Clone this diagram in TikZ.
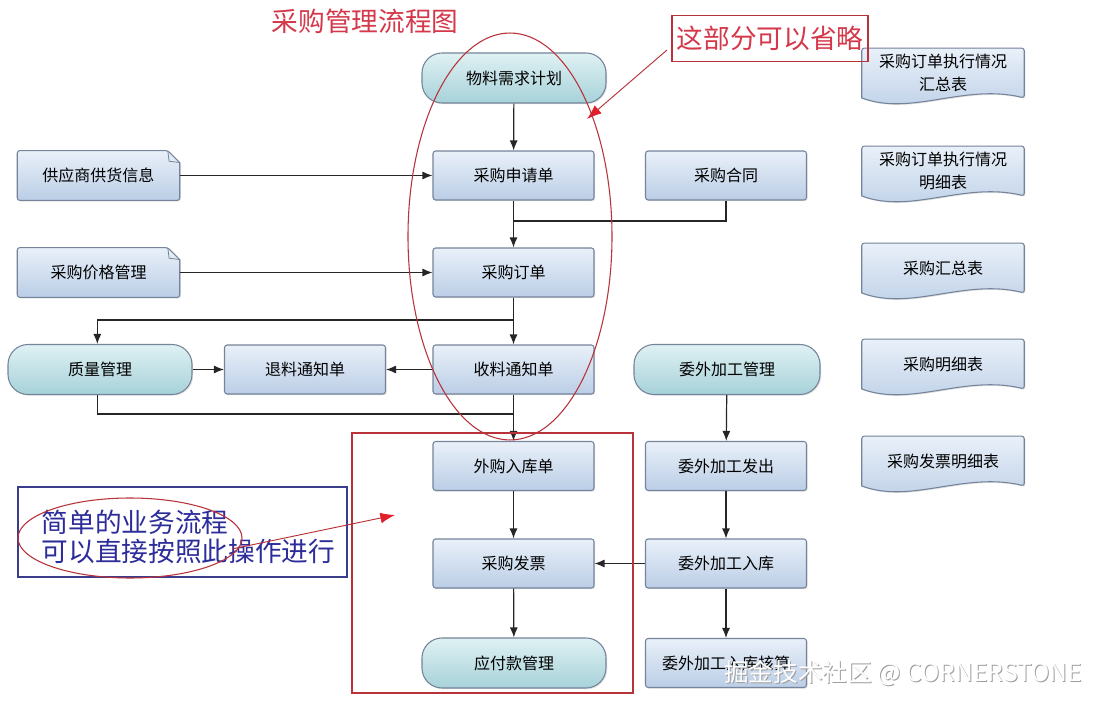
\documentclass[tikz,border=0pt]{standalone}
\usepackage{fontspec}
\setmainfont{Noto Sans CJK SC}
\usetikzlibrary{arrows.meta,shadows,backgrounds}
\definecolor{boxtop}{HTML}{E9F0F9}
\definecolor{boxbot}{HTML}{BBCEE6}
\definecolor{boxdraw}{HTML}{75849A}
\definecolor{termtop}{HTML}{DFF1F3}
\definecolor{termbot}{HTML}{A6D2D9}
\definecolor{linec}{HTML}{262626}
\definecolor{annred}{HTML}{B8323A}
\definecolor{titred}{HTML}{D4384A}
\definecolor{arrred}{HTML}{E0202A}
\definecolor{annblue}{HTML}{2C2C9A}
\definecolor{boxblue}{HTML}{3C3C8C}
\tikzset{
  x=0.75pt, y=-0.75pt,
  shade/.style={drop shadow={opacity=0.22,shadow xshift=0.9pt,shadow yshift=-0.9pt}},
  box/.style={rectangle, rounded corners=2pt, draw=boxdraw, line width=0.8pt,
    top color=boxtop, bottom color=boxbot, minimum width=120.75pt, minimum height=36.75pt,
    inner sep=0pt, font=\fontsize{12}{14}\selectfont, shade},
  term/.style={box, rounded corners=15pt, top color=termtop, bottom color=termbot,
    minimum width=138pt, minimum height=37.5pt},
  plain/.style={rectangle, minimum width=121.5pt, minimum height=37pt, inner sep=0pt,
    align=center, font=\fontsize{12}{17}\selectfont},
  docstyle/.style={draw=boxdraw, line width=0.8pt, top color=boxtop, bottom color=boxbot, shade},
  arr/.style={draw=linec, line width=0.9pt, -{Latex[length=7.5pt,width=6pt]}},
  ln/.style={draw=linec, line width=0.9pt},
  redarr/.style={draw=annred, line width=0.7pt, -{Latex[length=11pt,width=8pt,color=arrred]}},
}
\newcommand\foldeddoc[1]{%
  \begin{scope}[on background layer]
  \path[docstyle, rounded corners=2pt] (#1.south west) -- (#1.north west)
     -- ([xshift=-9pt]#1.north east) [sharp corners] -- ([yshift=-9pt]#1.north east)
     [rounded corners=2pt] -- (#1.south east) -- cycle;
  \draw[boxdraw, line width=0.6pt] ([xshift=-9pt]#1.north east) -- ([xshift=-8pt,yshift=-8pt]#1.north east) -- ([yshift=-9pt]#1.north east);
  \end{scope}}
\newcommand\wavedoc[1]{%
  \begin{scope}[on background layer]
  \path[docstyle, rounded corners=2pt] (#1.south west) -- (#1.north west) -- (#1.north east)
     -- (#1.south east) [sharp corners]
     .. controls ([xshift=-45pt,yshift=11pt]#1.south east) and ([xshift=37pt,yshift=-14pt]#1.south west) .. (#1.south west) -- cycle;
  \end{scope}}
\begin{document}
\begin{tikzpicture}
\useasboundingbox (0,0) rectangle (1108,706);
\begin{scope}[on background layer]
\fill[white] (0,0) rectangle (1108,706);
\end{scope}

% main column
\node[term] (plan)    at (514,78)    {物料需求计划};
\node[box]  (apply)   at (513.5,175.5) {采购申请单};
\node[box]  (order)   at (513.5,272.5) {采购订单};
\node[box]  (recv)    at (513.5,369.5) {收料通知单};
\node[box]  (instock) at (513.5,466)   {外购入库单};
\node[box]  (invoice) at (513.5,563.5) {采购发票};
\node[term] (payable) at (514,663)     {应付款管理};

% left column
\node[plain] (supp)  at (98.5,175.5) {供应商供货信息};
\node[plain] (price) at (98.5,272.5) {采购价格管理};
\foldeddoc{supp}
\foldeddoc{price}
\node[term] (qual) at (100,369.5) {质量管理};
\node[box]  (ret)  at (305,369.5) {退料通知单};

% outsourcing column
\node[box]  (contract) at (726,175.5) {采购合同};
\node[term, minimum width=139.5pt] (osm) at (727,369.5) {委外加工管理};
\node[box]  (oss)   at (726,466)   {委外加工发出};
\node[box]  (osin)  at (726,563.5) {委外加工入库};
\node[box]  (oscalc) at (726,663)  {委外加工入库核算};

% report documents
\node[plain] (r1) at (943,73)  {采购订单执行情况\\汇总表};
\node[plain] (r2) at (943,171) {采购订单执行情况\\明细表};
\node[plain] (r3) at (943,268) {采购汇总表};
\node[plain] (r4) at (943,364) {采购明细表};
\node[plain] (r5) at (943,461) {采购发票明细表};
\wavedoc{r1}\wavedoc{r2}\wavedoc{r3}\wavedoc{r4}\wavedoc{r5}

% connectors
\coordinate (j1) at (513.5,221);
\coordinate (j2) at (513.5,320);
\coordinate (j3) at (513.5,414);
\draw[arr] (plan) -- (apply);
\draw[arr] (supp) -- (apply);
\draw[arr] (apply) -- (order);
\draw[ln]  (contract) |- (j1);
\draw[arr] (price) -- (order);
\draw[arr] (order) -- (recv);
\draw[arr] (j2) -| ([xshift=-2pt]qual.north);
\draw[arr] (recv) -- (ret);
\draw[arr] (qual) -- (ret);
\draw[ln]  ([xshift=-2pt]qual.south) |- (j3);
\draw[arr] (recv) -- (instock);
\draw[arr] (instock) -- (invoice);
\draw[arr] (invoice) -- (payable);
\draw[arr] (osm) -- (oss);
\draw[arr] (oss) -- (osin);
\draw[arr] (osin) -- (oscalc);
\draw[arr] (osin) -- (invoice);

% annotations
\node[text=titred, font=\fontsize{20}{22}\selectfont] (title) at (365,21) {采购管理流程图};
\node[draw=annred, line width=0.8pt, text=titred, inner xsep=1pt, inner ysep=2pt,
      minimum width=147pt, minimum height=34pt, font=\fontsize{20}{22}\selectfont] (omit) at (770,38.5) {这部分可以省略};
\coordinate (t1a) at (667,50);
\coordinate (t1b) at (587,119);
\draw[redarr] (t1a) -- (t1b);
\draw[annred, line width=0.8pt] (510,236.5) ellipse [x radius=76.5pt, y radius=152.6pt];
\draw[annred, line width=0.8pt] (352,433) rectangle (633,693);

\node[draw=boxblue, line width=0.8pt, minimum width=246.75pt, minimum height=67.5pt] (simplebox) at (182.5,532) {};
\node[anchor=west, text=annblue, align=left, font=\fontsize{20}{22}\selectfont] (simple) at (37,537) {简单的业务流程\\可以直接按照此操作进行};
\draw[annred, line width=0.8pt] (130,538) ellipse [x radius=84pt, y radius=30pt];
\coordinate (t2a) at (232,549);
\coordinate (t2b) at (395,515);
\draw[redarr] (t2a) -- (t2b);

% watermark
\node[text=gray!75, font=\fontsize{18.5}{20}\selectfont] (wms) at (904.2,674.2) {掘金技术社区 @ CORNERSTONE};
\node[text=white, font=\fontsize{18.5}{20}\selectfont] (wm) at (903,673) {掘金技术社区 @ CORNERSTONE};
\end{tikzpicture}
\end{document}
